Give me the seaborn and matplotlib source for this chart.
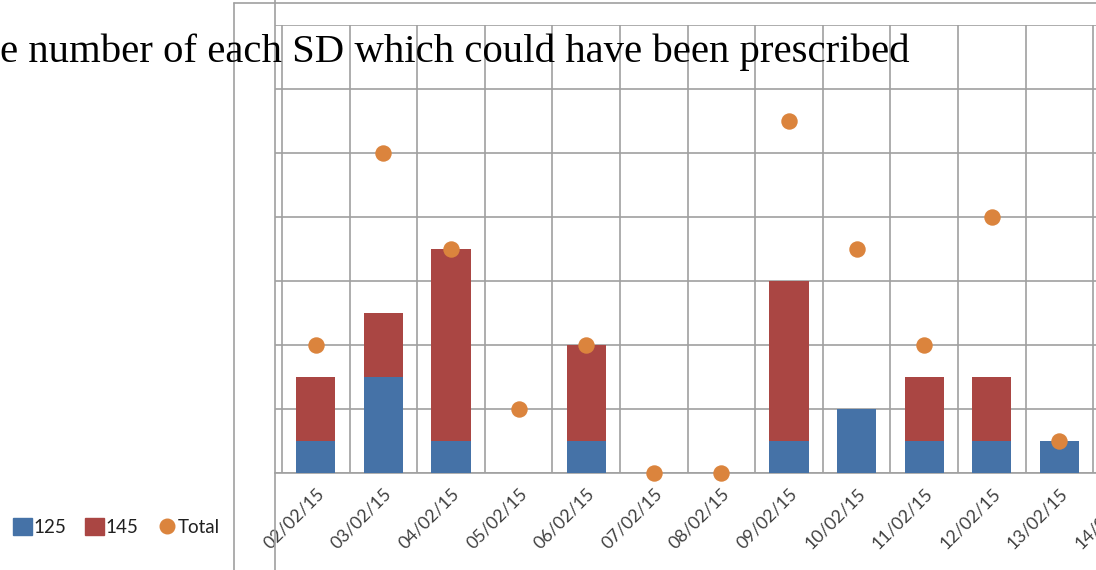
import numpy as np
import pandas as pd
import seaborn as sns
import matplotlib.pyplot as plt
from matplotlib.patches import Patch
from matplotlib.lines import Line2D

# Dữ liệu
dates = ['02/02/15', '03/02/15', '04/02/15', '05/02/15', '06/02/15', '07/02/15', '08/02/15',
         '09/02/15', '10/02/15', '11/02/15', '12/02/15', '13/02/15', '14/02/15']
sd_125 = [1, 3, 1, 0, 1, 0, 0, 1, 2, 1, 1, 1, 0]
sd_145 = [2, 2, 6, 0, 3, 0, 0, 5, 0, 2, 2, 0, 0]
total = [4, 10, 7, 2, 4, 0, 0, 11, 7, 4, 8, 1, np.nan]

df = pd.DataFrame({'date': dates, '125': sd_125, '145': sd_145, 'Total': total})
df['stack'] = df['125'] + df['145']

blue = '#4572A7'
red = '#AA4643'
orange = '#DB843D'
grid_c = '#a0a0a0'

sns.set_style('white')
plt.rcParams['font.family'] = ['Lato', 'DejaVu Sans']

fig = plt.figure(figsize=(10.96, 5.70), dpi=100)
W, H = 1096, 570
cat_w = 67.6
x0, x1 = -0.604, 12.6
ax = fig.add_axes([275 / W, (H - 473) / H, (x1 - x0) * cat_w / W, 448 / H])

# cột chồng: đỏ = tổng 125+145, xanh = 125 vẽ đè lên
sns.barplot(data=df, x='date', y='stack', color=red, width=0.58, saturation=1,
            linewidth=0, ax=ax, zorder=2)
sns.barplot(data=df, x='date', y='125', color=blue, width=0.58, saturation=1,
            linewidth=0, ax=ax, zorder=3)
sns.scatterplot(data=df.dropna(), x='date', y='Total', color=orange, s=140, linewidth=0,
                ax=ax, zorder=4, clip_on=False)

ax.set_xlim(x0, x1)
ax.set_ylim(0, 14)
ax.set_yticks(np.arange(0, 15, 2))
ax.set_yticklabels([])
ax.set_xticks(range(len(dates)))
ax.set_xticks(np.arange(-0.5, len(dates), 1), minor=True)
ax.set_xticklabels(dates, rotation=45, ha='right', va='top', rotation_mode='anchor',
                   fontsize=12.8, color='#404040')
ax.tick_params(axis='both', which='both', length=0)
ax.tick_params(axis='x', pad=9)
ax.grid(True, axis='y', color=grid_c, linewidth=1.2)
ax.grid(True, axis='x', which='minor', color=grid_c, linewidth=1.2)
ax.grid(False, axis='x', which='major')
ax.set_axisbelow(True)
ax.set_xlabel('')
ax.set_ylabel('')
for s in ['top', 'right', 'left']:
    ax.spines[s].set_visible(False)
ax.spines['bottom'].set_color(grid_c)
ax.spines['bottom'].set_linewidth(1.2)

# các đường khung của biểu đồ bị cắt
fig.add_artist(Line2D([275 / W, 275 / W], [0, 1], color=grid_c, lw=1.2, transform=fig.transFigure))
fig.add_artist(Line2D([234 / W, 234 / W], [0, (H - 3) / H], color=grid_c, lw=1.2, transform=fig.transFigure))
fig.add_artist(Line2D([234 / W, 1], [(H - 3) / H, (H - 3) / H], color=grid_c, lw=1.2, transform=fig.transFigure))

fig.text(0, (H - 52) / H, 'e number of each SD which could have been prescribed',
         family='Liberation Serif', fontsize=29.3, color='black', va='center', ha='left')

handles = [Patch(color=blue, label='125'), Patch(color=red, label='145'),
           Line2D([], [], marker='o', color=orange, linestyle='none', markersize=10.5, label='Total')]
fig.legend(handles=handles, loc='center left', bbox_to_anchor=(-4 / W, (H - 527) / H), ncol=3,
           frameon=False, handlelength=1.0, handleheight=1.0, handletextpad=0.1,
           columnspacing=1.0, prop={'size': 13.5}, labelcolor='#202020')

plt.savefig('out.png', dpi=100)
